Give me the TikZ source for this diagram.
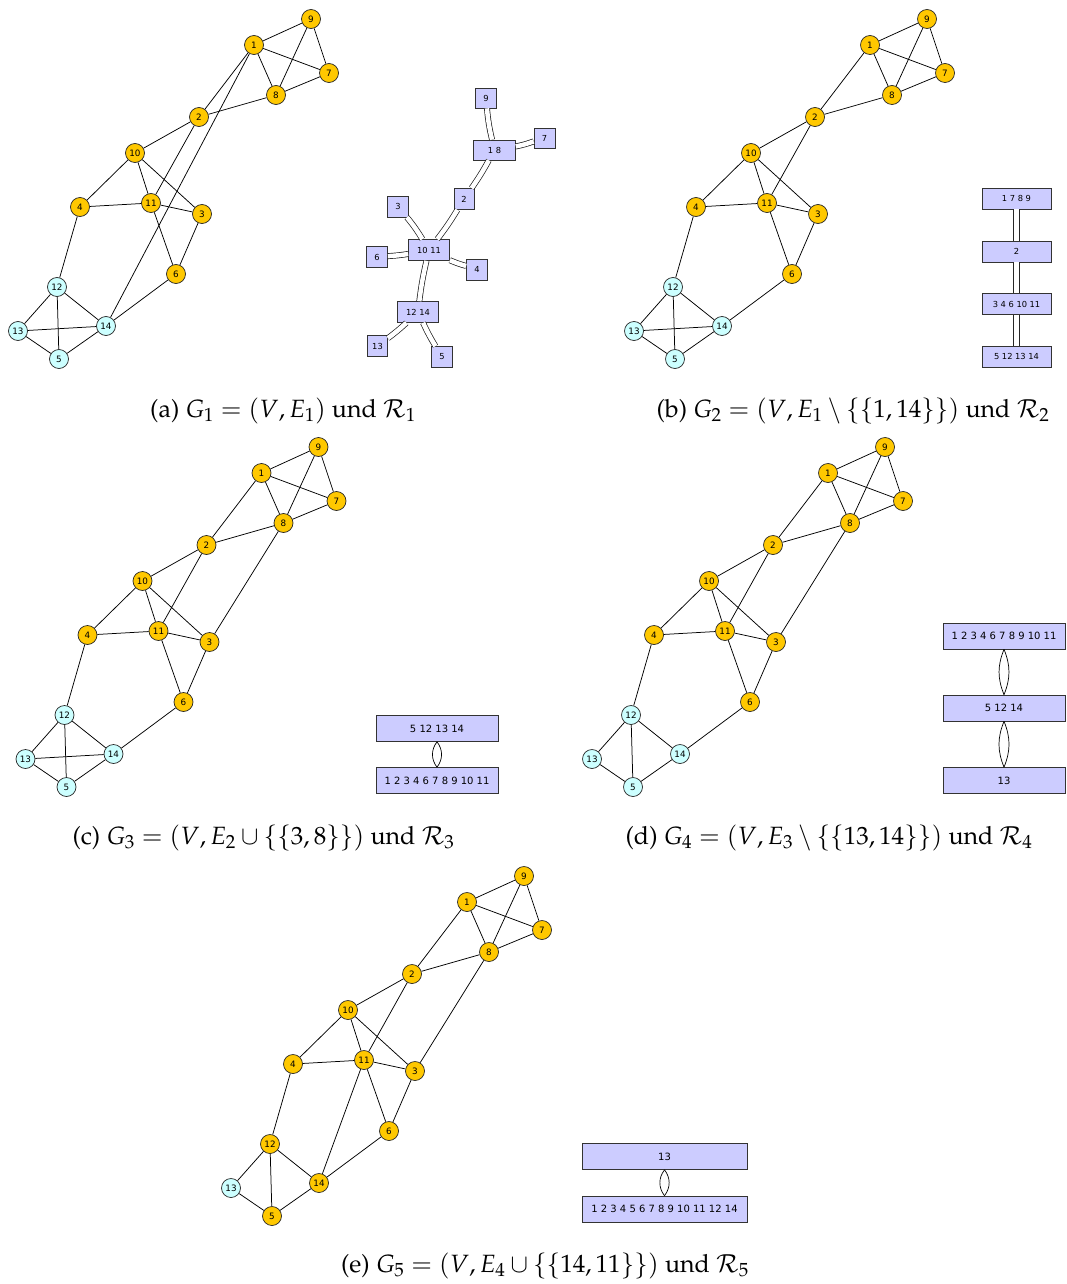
\documentclass[tikz,border=0pt]{standalone}
\usepackage[T1,TU]{fontenc}
\usepackage{mathpazo}
\usepackage[no-math]{fontspec}
\newfontfamily\dvsans{DejaVu Sans}
\definecolor{gold}{HTML}{FFC800}
\definecolor{lcyan}{HTML}{CCFFFF}
\definecolor{lav}{HTML}{CCCCFF}
\tikzset{
  gv/.style={circle, draw=black!85, line width=0.7pt, minimum size=19pt, inner sep=0pt,
             font=\dvsans\fontsize{8.8}{9}\selectfont},
  yel/.style={gv, fill=gold},
  cy/.style={gv, fill=lcyan},
  ge/.style={line width=0.75pt, black},
  tb/.style={rectangle, draw=black!80, line width=0.7pt, fill=lav, inner sep=0pt},
  tbs/.style={tb, font=\dvsans\fontsize{8.3}{9}\selectfont},
  tbm/.style={tb, font=\dvsans\fontsize{8.3}{9}\selectfont, minimum width=69pt, minimum height=21pt},
  tbl/.style={tb, font=\dvsans\fontsize{10}{11}\selectfont, minimum height=26pt},
  dbl/.style={double, double distance=4.5pt, line width=0.7pt, draw=black!90},
  dblb/.style={double, double distance=5.5pt, line width=0.8pt, draw=black!85},
  lens/.style={line width=0.7pt, black},
  captext/.style={font=\fontencoding{T1}\fontfamily{ppl}\fontsize{25}{29}\selectfont, inner sep=0pt},
}
\newcommand\gnodes[1]{%
  \node[yel] (v1) at (254,45) {1};
  \node[yel] (v9) at (311,19) {9};
  \node[yel] (v7) at (329,73) {7};
  \node[yel] (v8) at (276,95) {8};
  \node[yel] (v2) at (199,117) {2};
  \node[yel] (v10) at (135,153) {10};
  \node[yel] (v4) at (80,207) {4};
  \node[yel] (v11) at (151,203) {11};
  \node[yel] (v3) at (202,214) {3};
  \node[yel] (v6) at (176,274) {6};
  \node[#1] (v12) at (57,287) {12};
  \node[cy] (v13) at (18,331) {13};
  \node[#1] (v14) at (106,326) {14};
  \node[#1] (v5) at (59,359) {5};
}
\newcommand\gedges{%
  \draw[ge] (v1)--(v9) (v1)--(v7) (v1)--(v8) (v9)--(v8) (v9)--(v7) (v7)--(v8)
    (v1)--(v2) (v2)--(v8) (v2)--(v10) (v2)--(v11) (v10)--(v4) (v10)--(v11)
    (v10)--(v3) (v4)--(v11) (v11)--(v3) (v11)--(v6) (v3)--(v6) (v4)--(v12)
    (v6)--(v14) (v12)--(v13) (v12)--(v5) (v12)--(v14) (v13)--(v5) (v5)--(v14);
}
\begin{document}
\begin{tikzpicture}[x=1pt, y=-1pt]
\useasboundingbox (0,0) rectangle (1067,1284);

% ---------- (a) ----------
\begin{scope}[name prefix=a-]
  \gnodes{cy}
  \gedges
  \draw[ge] (v1)--(v14) (v13)--(v14);
\end{scope}
\node[tbs, minimum width=21pt, minimum height=20pt] (t9) at (486,98) {9};
\node[tbs, minimum width=21pt, minimum height=20pt] (t7) at (544.5,138) {7};
\node[tbs, minimum width=42pt, minimum height=20pt] (t18) at (494.5,150) {1 8};
\node[tbs, minimum width=20pt, minimum height=21pt] (t2) at (464,199) {2};
\node[tbs, minimum width=21pt, minimum height=21pt] (t3) at (398,206.5) {3};
\node[tbs, minimum width=41pt, minimum height=21pt] (t1011) at (429,250) {10 11};
\node[tbs, minimum width=21pt, minimum height=21pt] (t6) at (377,257) {6};
\node[tbs, minimum width=21pt, minimum height=21pt] (t4) at (477,269.5) {4};
\node[tbs, minimum width=41pt, minimum height=21pt] (t1214) at (418,312) {12 14};
\node[tbs, minimum width=20pt, minimum height=21pt] (t13) at (377.5,346) {13};
\node[tbs, minimum width=21pt, minimum height=21pt] (t5) at (442,357) {5};
\draw[dbl] (t9) to[bend right=4] (t18);
\draw[dbl] (t7) to[bend left=4] (t18);
\draw[dbl] (t18) to[bend left=3] (t2);
\draw[dbl] (t2) to[bend left=3] (t1011);
\draw[dbl] (t3) to[bend left=4] (t1011);
\draw[dbl] (t6) to[bend right=3] (t1011);
\draw[dbl] (t4) to[bend left=4] (t1011);
\draw[dbl] (t1011) to[bend right=3] (t1214);
\draw[dbl] (t1214) to[bend left=3] (t13);
\draw[dbl] (t1214) to[bend right=3] (t5);
\node[captext] (capa) at (283,410.5) {(a) $G_1=(V,E_1)$ und $\mathcal{R}_1$};

% ---------- (b) ----------
\begin{scope}[shift={(616,0)}, name prefix=b-]
  \gnodes{cy}
  \gedges
  \draw[ge] (v13)--(v14);
\end{scope}
\node[tbm] (b1) at (1016.5,198.5) {1 7 8 9};
\node[tbm] (b2) at (1016.5,251.5) {2};
\node[tbm] (b3) at (1016.5,304) {3 4 6 10 11};
\node[tbm] (b4) at (1016.5,356.5) {5 12 13 14};
\draw[dblb] (b1) -- (b2);
\draw[dblb] (b2) -- (b3);
\draw[dblb] (b3) -- (b4);
\node[captext] (capb) at (853,410.5) {(b) $G_2=(V,E_1\setminus\{\{1,14\}\})$ und $\mathcal{R}_2$};

% ---------- (c) ----------
\begin{scope}[shift={(7.5,428)}, name prefix=c-]
  \gnodes{cy}
  \gedges
  \draw[ge] (v13)--(v14) (v3)--(v8);
\end{scope}
\node[tbl, minimum width=122pt] (c1) at (437,728.5) {5 12 13 14};
\node[tbl, minimum width=122pt] (c2) at (437,780.5) {1 2 3 4 6 7 8 9 10 11};
\draw[lens] (c1.south) to[bend left=38] (c2.north);
\draw[lens] (c1.south) to[bend right=38] (c2.north);
\node[captext] (capc) at (263.5,837.5) {(c) $G_3=(V,E_2\cup\{\{3,8\}\})$ und $\mathcal{R}_3$};

% ---------- (d) ----------
\begin{scope}[shift={(574,428)}, name prefix=d-]
  \gnodes{cy}
  \gedges
  \draw[ge] (v3)--(v8);
\end{scope}
\node[tbl, minimum width=122pt] (d1) at (1004,636) {1 2 3 4 6 7 8 9 10 11};
\node[tbl, minimum width=122pt] (d2) at (1004,708) {5 12 14};
\node[tbl, minimum width=122pt] (d3) at (1004,780.5) {13};
\draw[lens] (d1.south) to[bend left=22] (d2.north);
\draw[lens] (d1.south) to[bend right=22] (d2.north);
\draw[lens] (d2.south) to[bend left=22] (d3.north);
\draw[lens] (d2.south) to[bend right=22] (d3.north);
\node[captext] (capd) at (829,837.5) {(d) $G_4=(V,E_3\setminus\{\{13,14\}\})$ und $\mathcal{R}_4$};

% ---------- (e) ----------
\begin{scope}[shift={(213,857)}, name prefix=e-]
  \gnodes{yel}
  \gedges
  \draw[ge] (v3)--(v8) (v14)--(v11);
\end{scope}
\node[tbl, minimum width=165pt] (e1) at (664.5,1156.5) {13};
\node[tbl, minimum width=165pt] (e2) at (664.5,1209) {1 2 3 4 5 6 7 8 9 10 11 12 14};
\draw[lens] (e1.south) to[bend left=38] (e2.north);
\draw[lens] (e1.south) to[bend right=38] (e2.north);
\node[captext] (cape) at (545,1265.5) {(e) $G_5=(V,E_4\cup\{\{14,11\}\})$ und $\mathcal{R}_5$};
\end{tikzpicture}
\end{document}
